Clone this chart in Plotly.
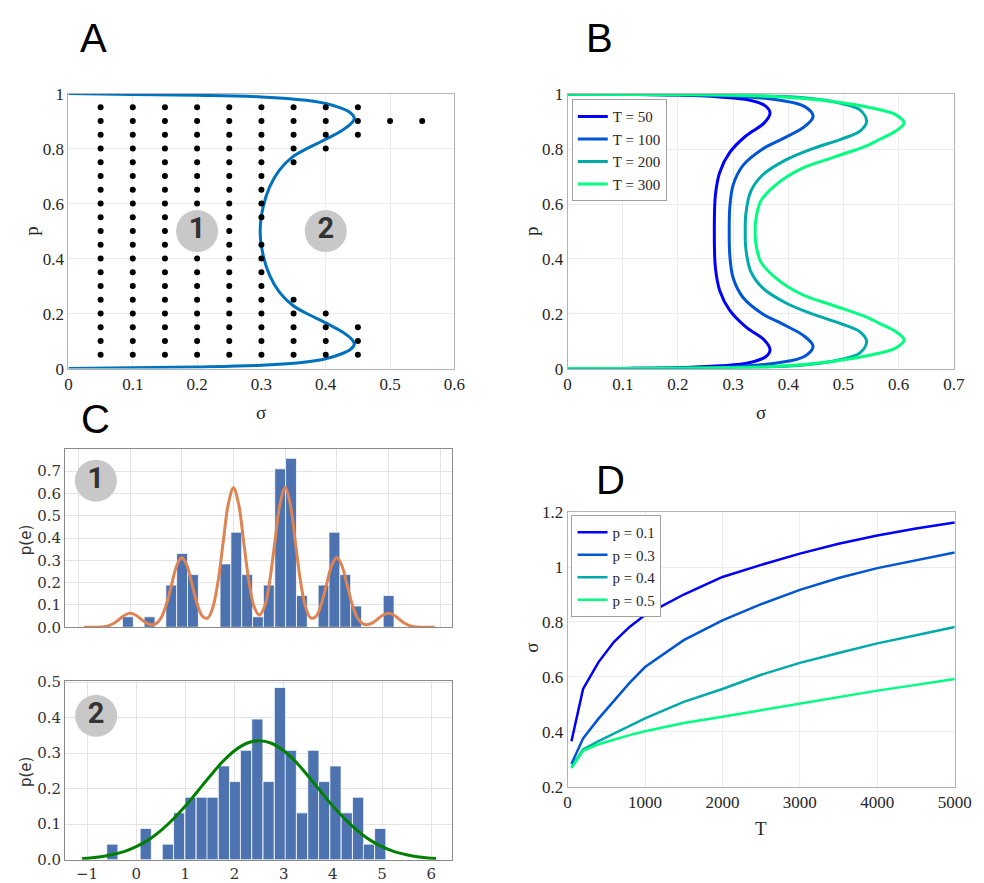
import plotly.graph_objects as go

W, H = 984, 883

# ---------------- Panel A data ----------------
A_sigma = [0, 0.1, 0.2, 0.3, 0.369, 0.4, 0.424, 0.439, 0.4445, 0.439, 0.424, 0.4, 0.369, 0.348, 0.328, 0.313, 0.303, 0.298,
           0.303, 0.313, 0.328, 0.348, 0.369, 0.4, 0.424, 0.439, 0.4445, 0.439, 0.424, 0.4, 0.369, 0.3, 0.2, 0.1, 0]
A_p = [1.0, 0.997, 0.994, 0.988, 0.976, 0.964, 0.947, 0.929, 0.911, 0.890, 0.864, 0.834, 0.798, 0.769, 0.722, 0.662, 0.591, 0.5,
       0.409, 0.338, 0.278, 0.231, 0.202, 0.166, 0.136, 0.110, 0.089, 0.071, 0.053, 0.036, 0.024, 0.012, 0.006, 0.003, 0.0]

full_col = [0.05, 0.10, 0.15, 0.20, 0.25, 0.30, 0.35, 0.40, 0.45, 0.50, 0.55, 0.60, 0.65, 0.70, 0.75, 0.80, 0.85, 0.90, 0.95]
dot_cols = [0.05, 0.10, 0.15, 0.20, 0.25, 0.30, 0.35, 0.40, 0.45, 0.50, 0.55]
dot_rows = [
    full_col, full_col, full_col, full_col, full_col,
    [0.05, 0.10, 0.15, 0.20, 0.25, 0.30, 0.35, 0.40, 0.45, 0.55, 0.60, 0.65, 0.70, 0.75, 0.80, 0.85, 0.90, 0.95],
    [0.05, 0.10, 0.15, 0.20, 0.25, 0.75, 0.80, 0.85, 0.90, 0.95],
    [0.05, 0.10, 0.15, 0.20, 0.80, 0.85, 0.90, 0.95],
    [0.05, 0.10, 0.15, 0.85, 0.90, 0.95],
    [0.90],
    [0.90],
]
A_regions_x = [0.2, 0.4]
A_regions_y = [0.5, 0.5]
region_labels = ["1", "2"]

# ---------------- Panel B data ----------------
T_labels = ["T = 50", "T = 100", "T = 200", "T = 300"]
T50_s = [0, 0.1, 0.2, 0.276, 0.329, 0.359, 0.367, 0.356, 0.323, 0.294, 0.276, 0.268, 0.266,
         0.268, 0.276, 0.294, 0.323, 0.356, 0.367, 0.359, 0.329, 0.276, 0.2, 0.1, 0]
T50_p = [1.0, 0.9995, 0.997, 0.990, 0.979, 0.957, 0.931, 0.895, 0.848, 0.788, 0.717, 0.634, 0.5,
         0.366, 0.283, 0.212, 0.152, 0.105, 0.069, 0.043, 0.021, 0.010, 0.003, 0.0005, 0.0]
T100_s = [0, 0.1, 0.2, 0.306, 0.382, 0.430, 0.445, 0.430, 0.394, 0.353, 0.318, 0.300, 0.294, 0.293,
          0.294, 0.300, 0.318, 0.353, 0.394, 0.430, 0.445, 0.430, 0.382, 0.306, 0.2, 0.1, 0]
T100_p = [1.0, 0.9995, 0.998, 0.993, 0.979, 0.955, 0.919, 0.883, 0.842, 0.800, 0.741, 0.669, 0.586, 0.5,
          0.414, 0.331, 0.259, 0.200, 0.158, 0.117, 0.081, 0.045, 0.021, 0.007, 0.002, 0.0005, 0.0]
T200_s = [0, 0.15, 0.3, 0.424, 0.495, 0.530, 0.542, 0.530, 0.495, 0.442, 0.394, 0.353, 0.332, 0.323, 0.322,
          0.323, 0.332, 0.353, 0.394, 0.442, 0.495, 0.530, 0.542, 0.530, 0.495, 0.424, 0.3, 0.15, 0]
T200_p = [1.0, 0.9995, 0.997, 0.988, 0.967, 0.943, 0.901, 0.866, 0.836, 0.800, 0.759, 0.705, 0.646, 0.562, 0.5,
          0.438, 0.354, 0.295, 0.241, 0.200, 0.164, 0.134, 0.099, 0.057, 0.033, 0.012, 0.003, 0.0005, 0.0]
T300_s = [0, 0.128, 0.25, 0.365, 0.483, 0.554, 0.595, 0.610, 0.595, 0.566, 0.542, 0.483, 0.424, 0.377, 0.350, 0.341, 0.340,
          0.341, 0.350, 0.377, 0.424, 0.483, 0.542, 0.566, 0.595, 0.610, 0.595, 0.554, 0.483, 0.365, 0.25, 0.128, 0]
T300_p = [1.0, 0.9995, 0.998, 0.993, 0.973, 0.949, 0.925, 0.895, 0.866, 0.836, 0.812, 0.771, 0.729, 0.669, 0.610, 0.539, 0.5,
          0.461, 0.390, 0.331, 0.271, 0.229, 0.188, 0.164, 0.134, 0.105, 0.075, 0.051, 0.027, 0.007, 0.002, 0.0005, 0.0]

# ---------------- Panel C data ----------------
C1_bin_width = 0.21
C1_bin_left = [-0.15, 0.27, 0.69, 0.90, 1.11, 1.74, 1.95, 2.16, 2.37, 2.58, 2.80, 3.01, 3.22, 3.64, 3.85, 4.06, 4.27, 4.90]
C1_density = [0.047, 0.047, 0.189, 0.331, 0.236, 0.284, 0.426, 0.236, 0.047, 0.189, 0.710, 0.757, 0.142, 0.189, 0.426, 0.236, 0.095, 0.142]
C1_curve_x = [-0.9, -0.8, -0.7, -0.6, -0.5, -0.4, -0.3, -0.2, -0.1, 0.0, 0.1, 0.2, 0.3, 0.4, 0.5, 0.6, 0.7, 0.8, 0.9,
              1.0, 1.1, 1.2, 1.3, 1.4, 1.5, 1.6, 1.7, 1.8, 1.9, 2.0, 2.1, 2.2, 2.3, 2.4, 2.5, 2.6, 2.7, 2.8, 2.9,
              3.0, 3.1, 3.2, 3.3, 3.4, 3.5, 3.6, 3.7, 3.8, 3.9, 4.0, 4.1, 4.2, 4.3, 4.4, 4.5, 4.6, 4.7, 4.8, 4.9,
              5.0, 5.1, 5.2, 5.3, 5.4, 5.5, 5.6, 5.7, 5.8, 5.9]
C1_curve_y = [0.0, 0.0, 0.0001, 0.0007, 0.0027, 0.0085, 0.0203, 0.0379, 0.0552, 0.0625, 0.0552, 0.0380, 0.0210, 0.0120,
              0.0164, 0.0430, 0.1016, 0.1895, 0.2758, 0.3125, 0.2758, 0.1897, 0.1029, 0.0492, 0.0412, 0.0880, 0.2036,
              0.3791, 0.5516, 0.6250, 0.5516, 0.3793, 0.2043, 0.0915, 0.0549, 0.0915, 0.2043, 0.3793, 0.5516, 0.6250,
              0.5516, 0.3791, 0.2036, 0.0880, 0.0412, 0.0492, 0.1029, 0.1897, 0.2758, 0.3125, 0.2758, 0.1895, 0.1016,
              0.0430, 0.0164, 0.0120, 0.0210, 0.0380, 0.0552, 0.0625, 0.0552, 0.0379, 0.0203, 0.0085, 0.0027, 0.0007,
              0.0001, 0.0, 0.0]

C2_bin_width = 0.227
C2_bin_left = [-0.60, 0.08, 0.53, 0.76, 0.99, 1.22, 1.44, 1.67, 1.90, 2.12, 2.35, 2.58, 2.81, 3.03, 3.26, 3.49, 3.71,
               3.94, 4.17, 4.40, 4.62, 4.85]
C2_density = [0.044, 0.088, 0.044, 0.132, 0.176, 0.176, 0.176, 0.264, 0.220, 0.308, 0.396, 0.220, 0.485, 0.308, 0.132,
              0.308, 0.220, 0.264, 0.132, 0.176, 0.044, 0.088]
C2_curve_x = [-1.1, -0.75, -0.5, -0.25, 0.0, 0.25, 0.5, 0.75, 1.0, 1.25, 1.5, 1.75, 2.0, 2.25, 2.5, 2.75, 3.0, 3.25,
              3.5, 3.75, 4.0, 4.25, 4.5, 4.75, 5.0, 5.25, 5.5, 5.75, 6.1]
C2_curve_y = [0.0035, 0.008, 0.014, 0.023, 0.037, 0.056, 0.082, 0.114, 0.151, 0.193, 0.235, 0.275, 0.307, 0.328, 0.335,
              0.328, 0.307, 0.275, 0.235, 0.193, 0.151, 0.114, 0.082, 0.056, 0.037, 0.023, 0.014, 0.008, 0.0035]

# ---------------- Panel D data ----------------
D_T = [50, 200, 400, 600, 800, 1000, 1500, 2000, 2500, 3000, 3500, 4000, 4500, 5000]
D_labels = ["p = 0.1", "p = 0.3", "p = 0.4", "p = 0.5"]
D_p01 = [0.366, 0.556, 0.654, 0.728, 0.782, 0.825, 0.900, 0.964, 1.008, 1.049, 1.085, 1.115, 1.140, 1.162]
D_p03 = [0.283, 0.376, 0.448, 0.515, 0.578, 0.636, 0.734, 0.806, 0.865, 0.917, 0.960, 0.996, 1.025, 1.053]
D_p04 = [0.271, 0.336, 0.366, 0.393, 0.421, 0.449, 0.509, 0.556, 0.608, 0.651, 0.687, 0.722, 0.752, 0.782]
D_p05 = [0.268, 0.331, 0.355, 0.372, 0.388, 0.402, 0.432, 0.455, 0.479, 0.503, 0.528, 0.550, 0.571, 0.592]

winter = ["rgb(0,0,255)", "rgb(0,85,212)", "rgb(0,170,170)", "rgb(0,255,128)"]


def fx(px):
    return px / W


def fy(py):
    return 1 - py / H


fig = go.Figure()

# Panel A
fig.add_trace(go.Scatter(x=A_sigma, y=A_p, mode="lines", line=dict(color="#0072BD", width=3, shape="spline", smoothing=1.0),
                         xaxis="x", yaxis="y", showlegend=False, hoverinfo="skip"))
dx, dy = [], []
for c, rows in zip(dot_cols, dot_rows):
    for r in rows:
        dx.append(c)
        dy.append(r)
fig.add_trace(go.Scatter(x=dx, y=dy, mode="markers", marker=dict(color="black", size=6),
                         xaxis="x", yaxis="y", showlegend=False))

circle_font = dict(family="Roboto", size=29, color="#333333", weight="bold")
fig.add_trace(go.Scatter(x=A_regions_x, y=A_regions_y, mode="markers+text", text=region_labels,
                         textposition="middle center", textfont=circle_font,
                         marker=dict(color="#c8c8c8", size=42, line=dict(width=0)),
                         xaxis="x", yaxis="y", showlegend=False, cliponaxis=False))

# Panel B
for s, p, lab, col in zip([T50_s, T100_s, T200_s, T300_s], [T50_p, T100_p, T200_p, T300_p], T_labels, winter):
    fig.add_trace(go.Scatter(x=s, y=p, mode="lines", name=lab, line=dict(color=col, width=3, shape="spline", smoothing=1.0),
                             xaxis="x2", yaxis="y2", legend="legend"))

# Panel C top
fig.add_trace(go.Bar(x=C1_bin_left, y=C1_density, width=C1_bin_width, offset=0,
                     marker=dict(color="#4C72B0", line=dict(color="rgba(255,255,255,0.75)", width=1)),
                     xaxis="x3", yaxis="y3", showlegend=False))
fig.add_trace(go.Scatter(x=C1_curve_x, y=C1_curve_y, mode="lines", line=dict(color="#DD8452", width=3, shape="spline"),
                         xaxis="x3", yaxis="y3", showlegend=False))
fig.add_trace(go.Scatter(x=[-0.664], y=[0.657], mode="markers+text", text=["1"], textposition="middle center",
                         textfont=circle_font, marker=dict(color="#c8c8c8", size=42, line=dict(width=0)),
                         xaxis="x3", yaxis="y3", showlegend=False, cliponaxis=False))

# Panel C bottom
fig.add_trace(go.Bar(x=C2_bin_left, y=C2_density, width=C2_bin_width, offset=0,
                     marker=dict(color="#4C72B0", line=dict(color="rgba(255,255,255,0.75)", width=1)),
                     xaxis="x4", yaxis="y4", showlegend=False))
fig.add_trace(go.Scatter(x=C2_curve_x, y=C2_curve_y, mode="lines", line=dict(color="#007F00", width=3, shape="spline"),
                         xaxis="x4", yaxis="y4", showlegend=False))
fig.add_trace(go.Scatter(x=[-0.815], y=[0.405], mode="markers+text", text=["2"], textposition="middle center",
                         textfont=circle_font, marker=dict(color="#c8c8c8", size=42, line=dict(width=0)),
                         xaxis="x4", yaxis="y4", showlegend=False, cliponaxis=False))

# Panel D
for ys, lab, col in zip([D_p01, D_p03, D_p04, D_p05], D_labels, winter):
    fig.add_trace(go.Scatter(x=D_T, y=ys, mode="lines", name=lab, line=dict(color=col, width=2.5),
                             xaxis="x5", yaxis="y5", legend="legend2"))

mat_font = dict(family="Liberation Serif", size=17, color="#262626")
sns_font = dict(family="DejaVu Serif", size=15, color="#333333")
mat_ax = dict(showgrid=True, gridcolor="#ececec", gridwidth=1, zeroline=False, showline=True, mirror=True,
              linecolor="#b4b4b4", linewidth=1, ticks="", tickfont=mat_font)
sns_ax = dict(showgrid=True, gridcolor="#e3e3e3", gridwidth=1, zeroline=False, showline=True, mirror=True,
              linecolor="#8a8a8a", linewidth=1.2, ticks="", tickfont=sns_font)

leg_common = dict(xanchor="left", yanchor="top", bgcolor="white", bordercolor="#a0a0a0", borderwidth=1,
                  font=dict(family="Liberation Serif", size=15, color="#262626"), tracegroupgap=0, itemwidth=30)

fig.update_layout(
    width=W, height=H, margin=dict(l=0, r=0, t=0, b=0),
    paper_bgcolor="white", plot_bgcolor="white",
    xaxis=dict(domain=[fx(57.7), fx(452)], anchor="y", range=[0, 0.6], dtick=0.1, **mat_ax),
    yaxis=dict(domain=[fy(359.3), fy(78.3)], anchor="x", range=[0, 1], dtick=0.2, **mat_ax),
    xaxis2=dict(domain=[fx(567.7), fx(962.3)], anchor="y2", range=[0, 0.7], dtick=0.1, **mat_ax),
    yaxis2=dict(domain=[fy(359.3), fy(79)], anchor="x2", range=[0, 1], dtick=0.2, **mat_ax),
    xaxis3=dict(domain=[fx(54.3), fx(450)], anchor="y3", range=[-1.26, 6.24], dtick=1, showticklabels=False, **sns_ax),
    yaxis3=dict(domain=[fy(623.7), fy(441.7)], anchor="x3", range=[0, 0.798], dtick=0.1, tickformat=".1f", **sns_ax),
    xaxis4=dict(domain=[fx(54.3), fx(450)], anchor="y4", range=[-1.446, 6.432], dtick=1, **sns_ax),
    yaxis4=dict(domain=[fy(861.3), fy(678.3)], anchor="x4", range=[0, 0.504], dtick=0.1, tickformat=".1f", **sns_ax),
    xaxis5=dict(domain=[fx(567.7), fx(963.3)], anchor="y5", range=[0, 5000], dtick=1000, **mat_ax),
    yaxis5=dict(domain=[fy(786.7), fy(506)], anchor="x5", range=[0.2, 1.2], dtick=0.2, **mat_ax),
    legend=dict(x=fx(572), y=fy(84), **leg_common),
    legend2=dict(x=fx(571.7), y=fy(509), **leg_common),
)

ann = []
label_font = dict(family="Liberation Sans", size=40, color="black")
for t, x, y in [("A", 83.5, 21), ("B", 600, 21), ("C", 85, 411), ("D", 612, 473)]:
    ann.append(dict(text=t, x=fx(x), y=fy(y), xref="paper", yref="paper", showarrow=False,
                    xanchor="center", yanchor="middle", font=label_font))
title_font = dict(family="Liberation Serif", size=19, color="#262626")
for t, x, y, ang in [("p", 20, 219, -90), ("σ", 254.5, 404, 0), ("p", 531, 219, -90), ("σ", 765, 404, 0),
                     ("σ", 530, 645, -90), ("T", 765, 829, 0)]:
    ann.append(dict(text=t, x=fx(x), y=fy(y), xref="paper", yref="paper", showarrow=False,
                    xanchor="center", yanchor="middle", textangle=ang, font=title_font))
for y in [535, 772]:
    ann.append(dict(text="p(e)", x=fx(15), y=fy(y), xref="paper", yref="paper", showarrow=False,
                    xanchor="center", yanchor="middle", textangle=-90,
                    font=dict(family="DejaVu Sans", size=15, color="#333333")))
fig.update_layout(annotations=ann)

fig.write_html("out.html")
